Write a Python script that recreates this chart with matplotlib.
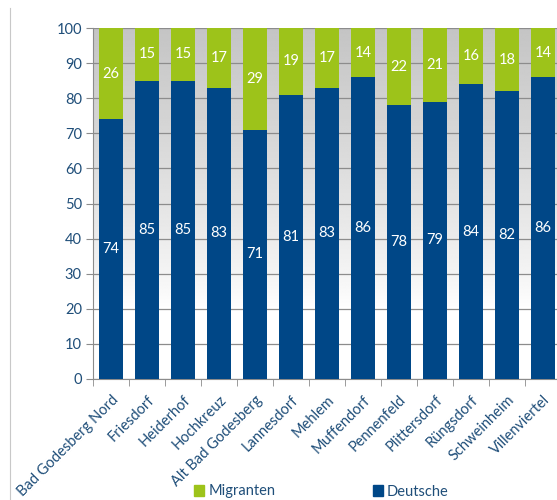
import numpy as np
import matplotlib.pyplot as plt
from matplotlib.lines import Line2D
from matplotlib.patches import Patch

plt.rcParams['font.family'] = ['Lato', 'DejaVu Sans']

# Anteil in Prozent je Ortsteil
ortsteile = ['Bad Godesberg Nord', 'Friesdorf', 'Heiderhof', 'Hochkreuz',
             'Alt Bad Godesberg', 'Lannesdorf', 'Mehlem', 'Muffendorf',
             'Pennenfeld', 'Plittersdorf', 'Rüngsdorf', 'Schweinheim',
             'Villenviertel']
deutsche = [74, 85, 85, 83, 71, 81, 83, 86, 78, 79, 84, 82, 86]
migranten = [26, 15, 15, 17, 29, 19, 17, 14, 22, 21, 16, 18, 14]
y_ticks = [0, 10, 20, 30, 40, 50, 60, 70, 80, 90, 100]

blau = '#004787'
gruen = '#9dc31a'
text_blau = '#1f4e79'

fig = plt.figure(figsize=(5.57, 5.00), dpi=100)
ax = fig.add_axes([93 / 557, 121 / 500, 468 / 557, 351 / 500])

x = np.arange(len(ortsteile))

# Hintergrund: grau oben, nach unten weiss
grad = np.linspace(1.0, 0.0, 256)
shade = 1.0 - 0.23 * np.clip((grad - 0.2) / 0.8, 0, 1) ** 0.8
img = np.repeat(shade[:, None], 2, axis=1)
ax.imshow(img, cmap='gray', vmin=0, vmax=1, aspect='auto',
          extent=(-0.5, len(ortsteile) - 0.5, 0, 100), zorder=0,
          interpolation='bilinear')

ax.bar(x, deutsche, width=0.64, color=blau, zorder=3, label='Deutsche')
ax.bar(x, migranten, width=0.64, bottom=deutsche, color=gruen, zorder=3,
       label='Migranten')

for xi, d, m in zip(x, deutsche, migranten):
    ax.text(xi, d / 2, str(d), ha='center', va='center', color='white',
            fontsize=10.5, zorder=4)
    ax.text(xi, d + m / 2, str(m), ha='center', va='center', color='white',
            fontsize=10.5, zorder=4)

ax.set_xlim(-0.5, len(ortsteile) - 0.5)
ax.set_ylim(0, 100)
ax.set_yticks(y_ticks)
ax.yaxis.grid(True, color='#8c8c8c', linewidth=0.9, zorder=1)
ax.set_axisbelow(True)

ax.set_xticks(x)
ax.set_xticklabels(ortsteile, rotation=45, ha='right', rotation_mode='anchor',
                   color=text_blau, fontsize=10.5)
ax.set_xticks(np.arange(-0.5, len(ortsteile), 1), minor=True)
ax.tick_params(axis='x', which='major', length=0, pad=10)
ax.tick_params(axis='x', which='minor', length=5, color='#8c8c8c')
ax.tick_params(axis='y', length=5, color='#8c8c8c', labelcolor=text_blau,
               labelsize=10.5, pad=3)

for side in ['top', 'right']:
    ax.spines[side].set_visible(False)
for side in ['left', 'bottom']:
    ax.spines[side].set_color('#8c8c8c')

handles = [Patch(color=gruen, label='Migranten'),
           Patch(color=blau, label='Deutsche')]
fig.legend(handles=handles, loc='center', bbox_to_anchor=(0.577, 0.017),
           ncol=2, frameon=False, handlelength=0.7, handleheight=0.7,
           handletextpad=0.3, columnspacing=6.65, fontsize=10.5,
           labelcolor=text_blau)

# Rahmenlinie links
fig.add_artist(Line2D([10 / 557, 10 / 557], [0, 492 / 500],
                      color='#c8c8c8', linewidth=0.8))

fig.savefig('out.png', dpi=100)
